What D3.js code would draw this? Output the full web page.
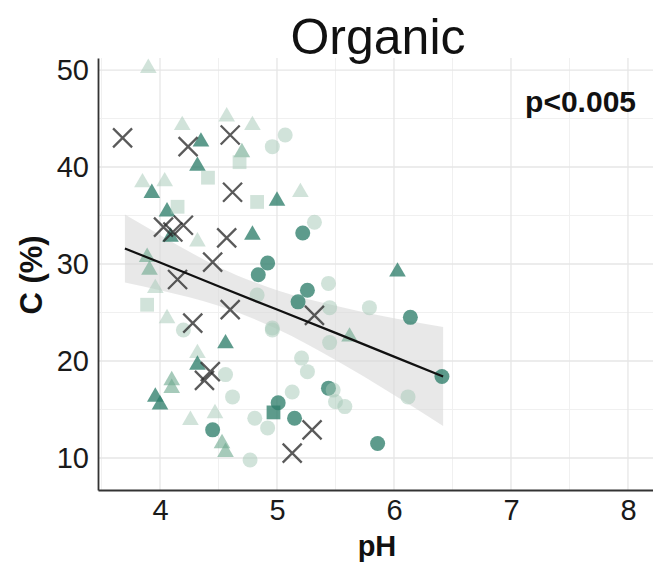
<!DOCTYPE html>
<html>
<head>
<meta charset="utf-8">
<script src="https://cdn.jsdelivr.net/npm/d3@7"></script>
<style>
html,body{margin:0;padding:0;background:#fff;}
svg{display:block;font-family:"Liberation Sans",Arial,sans-serif;}
</style>
</head>
<body>
<svg id="chart" width="653" height="563"></svg>
<script>
// ---- data: [pH, C(%), shade] ----
const triangles = [
  [3.90,50.2,"L"],[4.19,44.3,"L"],[4.57,45.2,"L"],[4.79,44.3,"L"],[4.35,42.6,"D"],
  [4.70,41.5,"M"],[4.32,40.1,"D"],[3.85,38.4,"L"],[4.04,38.5,"L"],[3.93,37.3,"D"],
  [4.06,35.4,"D"],[4.09,32.8,"D"],[4.32,32.3,"L"],[5.00,36.5,"D"],[5.20,37.4,"L"],
  [4.79,33.0,"D"],[3.89,30.7,"M"],[3.91,29.4,"M"],[3.96,27.5,"L"],[4.06,24.4,"L"],
  [4.56,21.8,"D"],[4.32,20.8,"L"],[4.32,19.6,"D"],[4.10,18.0,"M"],[4.10,17.2,"M"],
  [3.96,16.3,"D"],[4.00,15.5,"D"],[4.26,13.9,"L"],[4.47,14.6,"L"],[4.53,11.5,"M"],
  [4.56,10.6,"M"],[6.03,29.2,"D"],[5.62,22.5,"M"]
];
const squares = [
  [4.68,40.5,"L"],[4.41,38.9,"L"],[4.15,35.9,"L"],[4.83,36.4,"L"],[3.89,25.8,"L"],[4.97,14.7,"D"]
];
const circles = [
  [5.07,43.3,"L"],[4.96,42.1,"L"],[5.32,34.3,"L"],[5.22,33.2,"D"],[4.92,30.1,"D"],
  [4.84,28.9,"D"],[5.44,28.0,"L"],[5.26,27.3,"D"],[5.18,26.1,"D"],[5.45,25.5,"L"],
  [5.79,25.5,"L"],[6.14,24.5,"D"],[4.96,23.2,"L"],[4.83,26.8,"L"],[5.45,21.9,"L"],
  [5.21,20.3,"L"],[5.26,18.9,"L"],[6.41,18.4,"D"],[5.44,17.2,"D"],[5.48,17.0,"L"],
  [5.13,16.8,"L"],[5.50,15.8,"L"],[5.58,15.3,"L"],[6.12,16.3,"L"],[5.01,15.7,"D"],
  [5.15,14.1,"D"],[4.81,14.1,"L"],[4.92,13.1,"L"],[5.86,11.5,"D"],[4.77,9.8,"L"],
  [4.62,16.3,"L"],[4.56,18.6,"L"],[4.45,12.9,"D"],[4.20,23.2,"L"],[4.96,23.4,"L"]
];
const crosses = [
  [3.68,43.0],[4.24,42.1],[4.60,43.3],[4.62,37.4],[4.03,33.8],[4.20,34.0],
  [4.11,33.3],[4.57,32.7],[4.45,30.2],[4.15,28.4],[4.60,25.3],[5.32,24.7],
  [4.28,23.9],[4.43,18.9],[4.38,18.0],[5.30,12.9],[5.13,10.5]
];
// regression fit and confidence band
const fitX  = [3.70, 4.0, 4.5, 5.0, 5.5, 6.0, 6.42];
const fitY  = [31.6, 30.15, 27.7, 25.3, 22.9, 20.45, 18.4];
const bandLo= [28.1, 27.3, 25.7, 23.3, 20.1, 16.5, 13.3];
const bandHi= [35.1, 33.0, 29.7, 27.3, 25.7, 24.4, 23.5];
const xTicks = [4,5,6,7,8];
const yTicks = [10,20,30,40,50];
const titleText = "Organic";
const xTitle = "pH";
const yTitle = "C (%)";
const pLabel = "p<0.005";

// ---- layout ----
const svg = d3.select("#chart");
const L = 98, R = 653, T = 58, B = 490;
const x = d3.scaleLinear().domain([3.47, 8.214]).range([L, R]);
const y = d3.scaleLinear().domain([6.70, 51.24]).range([B, T]);

const shadeFill = {D:"#2f7f6b", M:"#6fa98f", L:"#a3c8b6"};
const shadeOpacity = {D:0.78, M:0.62, L:0.5};

// grid
const grid = svg.append("g");
const minorX = d3.range(3.5, 8.3, 0.5).filter(v => v % 1 !== 0);
const minorY = [15,25,35,45];
grid.selectAll(".mx").data(minorX).join("line")
  .attr("x1", d=>x(d)).attr("x2", d=>x(d)).attr("y1", T).attr("y2", B)
  .attr("stroke", "#f0f0f0").attr("stroke-width", 1);
grid.selectAll(".my").data(minorY).join("line")
  .attr("x1", L).attr("x2", R).attr("y1", d=>y(d)).attr("y2", d=>y(d))
  .attr("stroke", "#f0f0f0").attr("stroke-width", 1);
grid.selectAll(".Mx").data(xTicks).join("line")
  .attr("x1", d=>x(d)).attr("x2", d=>x(d)).attr("y1", T).attr("y2", B)
  .attr("stroke", "#e6e6e6").attr("stroke-width", 1.3);
grid.selectAll(".My").data(yTicks).join("line")
  .attr("x1", L).attr("x2", R).attr("y1", d=>y(d)).attr("y2", d=>y(d))
  .attr("stroke", "#e6e6e6").attr("stroke-width", 1.3);

// band
const bandData = fitX.map((v,i)=>({x:v, lo:bandLo[i], hi:bandHi[i]}));
svg.append("path").datum(bandData)
  .attr("d", d3.area().x(d=>x(d.x)).y0(d=>y(d.lo)).y1(d=>y(d.hi)).curve(d3.curveMonotoneX))
  .attr("fill", "#d9d9d9").attr("opacity", 0.6);

// points
const pts = svg.append("g");
const tri = d3.symbol().type(d3.symbolTriangle).size(120);
const sq = d3.symbol().type(d3.symbolSquare).size(190);
pts.selectAll(".tri").data(triangles).join("path")
  .attr("d", tri).attr("transform", d=>`translate(${x(d[0])},${y(d[1])})`)
  .attr("fill", d=>shadeFill[d[2]]).attr("fill-opacity", d=>shadeOpacity[d[2]]);
pts.selectAll(".sq").data(squares).join("path")
  .attr("d", sq).attr("transform", d=>`translate(${x(d[0])},${y(d[1])})`)
  .attr("fill", d=>shadeFill[d[2]]).attr("fill-opacity", d=>shadeOpacity[d[2]]);
pts.selectAll(".ci").data(circles).join("circle")
  .attr("cx", d=>x(d[0])).attr("cy", d=>y(d[1])).attr("r", 7.5)
  .attr("fill", d=>shadeFill[d[2]]).attr("fill-opacity", d=>shadeOpacity[d[2]]);
const h = 9.5;
pts.selectAll(".x").data(crosses).join("path")
  .attr("d", d=>{const cx=x(d[0]), cy=y(d[1]);
    return `M${cx-h},${cy-h}L${cx+h},${cy+h}M${cx-h},${cy+h}L${cx+h},${cy-h}`;})
  .attr("stroke", "#2b2b2b").attr("stroke-opacity", 0.78).attr("stroke-width", 2.3).attr("fill","none");

// regression line
svg.append("path").datum(fitX.map((v,i)=>[v, fitY[i]]))
  .attr("d", d3.line().x(d=>x(d[0])).y(d=>y(d[1])))
  .attr("fill","none").attr("stroke","#111").attr("stroke-width",2.2);

// axes
const xAxis = svg.append("g").attr("transform", `translate(0,${B})`)
  .call(d3.axisBottom(x).tickValues(xTicks).tickSize(0).tickPadding(9).tickFormat(d3.format("d")));
const yAxis = svg.append("g").attr("transform", `translate(${L},0)`)
  .call(d3.axisLeft(y).tickValues(yTicks).tickSize(0).tickPadding(9).tickFormat(d3.format("d")));
[xAxis, yAxis].forEach(a=>{
  a.select(".domain").attr("stroke","#333").attr("stroke-width",1.8);
  a.selectAll("text").attr("font-size", 29).attr("fill","#1a1a1a")
   .attr("font-family","'Liberation Sans',Arial,sans-serif");
});

// titles
svg.append("text").attr("x", 378).attr("y", 54).attr("text-anchor","middle")
  .attr("font-size", 50).attr("fill","#111").text(titleText);
svg.append("text").attr("x", 377).attr("y", 556).attr("text-anchor","middle")
  .attr("font-size", 29).attr("font-weight","bold").attr("fill","#111").text(xTitle);
svg.append("text").attr("transform","translate(42,275) rotate(-90)").attr("text-anchor","middle")
  .attr("font-size", 31).attr("font-weight","bold").attr("fill","#111").text(yTitle);
svg.append("text").attr("x", 636).attr("y", 112).attr("text-anchor","end")
  .attr("font-size", 30).attr("font-weight","bold").attr("fill","#111").text(pLabel);
</script>
</body>
</html>
